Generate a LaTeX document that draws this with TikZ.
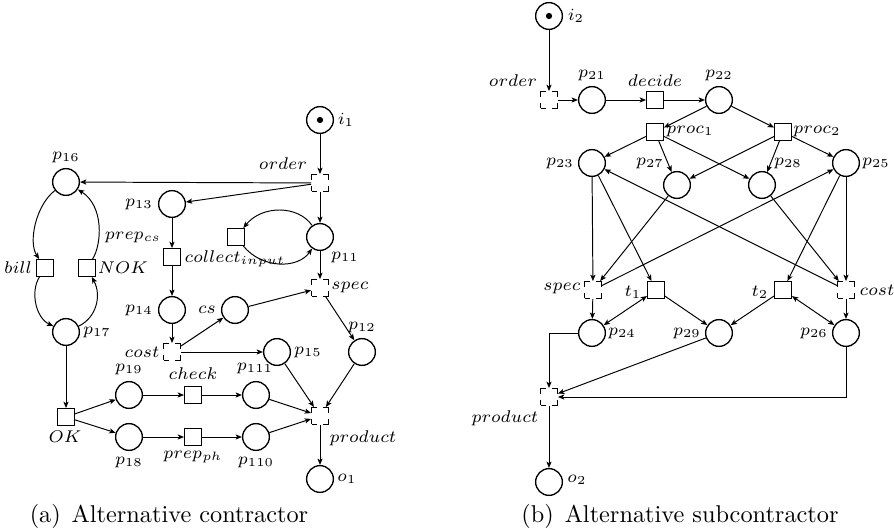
\documentclass[tikz,border=0pt]{standalone}
\usetikzlibrary{arrows.meta}
\begin{document}
\begin{tikzpicture}[x=0.4115pt,y=-0.4115pt,
  place/.style={circle,draw,line width=0.55pt,minimum size=11pt,inner sep=0pt},
  trans/.style={rectangle,draw,line width=0.55pt,minimum size=6.8pt,inner sep=0pt},
  silent/.style={trans,dash pattern=on 4pt off 2.8pt,dash phase=2pt},
  flow/.style={-{Stealth[length=2.6pt,width=2.1pt,inset=0.6pt]},line width=0.4pt},
  bflow/.style={{Stealth[length=2.6pt,width=2.1pt,inset=0.6pt]}-{Stealth[length=2.6pt,width=2.1pt,inset=0.6pt]},line width=0.4pt},
  lbl/.style={inner sep=0pt,font=\scriptsize},
  captxt/.style={inner sep=0pt,font=\normalsize}]
\useasboundingbox (0,0) rectangle (894,532);

% ---------------- left net ----------------
\node[place] (i1) at (320,120) {};
\fill (i1.center) circle[radius=1.3pt];
\node[silent] (order1) at (320,183) {};
\node[place] (p16) at (66,182) {};
\node[place] (p13) at (172,204) {};
\node[trans] (collect) at (236,237) {};
\node[place] (p11) at (320,237) {};
\node[trans] (tx) at (172,257) {};
\node[trans] (bill) at (45,268) {};
\node[trans] (nok) at (87,268) {};
\node[silent] (spec1) at (320,288) {};
\node[place] (p14) at (172,310) {};
\node[place] (cs) at (235,310) {};
\node[place] (p17) at (66,332) {};
\node[silent] (cost1) at (172,352) {};
\node[place] (p15) at (277,352) {};
\node[place] (p12) at (362,352) {};
\node[place] (p19) at (129,395) {};
\node[trans] (check) at (193,395) {};
\node[place] (p111) at (256,395) {};
\node[trans] (ok) at (66,417) {};
\node[silent] (product1) at (320,416) {};
\node[place] (p18) at (129,437) {};
\node[trans] (prepph) at (193,437) {};
\node[place] (p110) at (256,437) {};
\node[place] (o1) at (320,479) {};

\node[lbl] (l-i1) at (346,120) {$i_1$};
\node[lbl] (l-order1) at (283,164) {$order$};
\node[lbl] (l-p16) at (66,157) {$p_{16}$};
\node[lbl] (l-p13) at (139,204) {$p_{13}$};
\node[lbl] (l-prepcs) at (133,237) {$prep_{cs}$};
\node[lbl] (l-collect) at (235,259) {$collect_{input}$};
\node[lbl] (l-p11) at (345,257) {$p_{11}$};
\node[lbl] (l-bill) at (18,268) {$bill$};
\node[lbl] (l-nok) at (123,268) {$NOK$};
\node[lbl] (l-spec1) at (350,287) {$spec$};
\node[lbl] (l-p14) at (139,310) {$p_{14}$};
\node[lbl] (l-cs) at (207,310) {$cs$};
\node[lbl] (l-p17) at (97,332) {$p_{17}$};
\node[lbl] (l-p12) at (362,327) {$p_{12}$};
\node[lbl] (l-cost1) at (142,352) {$cost$};
\node[lbl] (l-p15) at (308,352) {$p_{15}$};
\node[lbl] (l-p111) at (255,368) {$p_{111}$};
\node[lbl] (l-p19) at (129,369) {$p_{19}$};
\node[lbl] (l-check) at (193,374) {$check$};
\node[lbl] (l-ok) at (65,437) {$OK$};
\node[lbl] (l-product1) at (363,438) {$product$};
\node[lbl] (l-p18) at (129,462) {$p_{18}$};
\node[lbl] (l-prepph) at (193,457) {$prep_{ph}$};
\node[lbl] (l-p110) at (256,462) {$p_{110}$};
\node[lbl] (l-o1) at (347,479) {$o_1$};

\draw[flow] (i1) -- (order1);
\draw[flow] (order1) -- (p16);
\draw[flow] (order1) -- (p13);
\draw[flow] (order1) -- (p11);
\draw[flow] (p11) .. controls (298,205) and (262,205) .. (collect);
\draw[flow] (collect) .. controls (262,269) and (298,269) .. (p11);
\draw[flow] (p11) -- (spec1);
\draw[flow] (p13) -- (tx);
\draw[flow] (tx) -- (p14);
\draw[flow] (p14) -- (cost1);
\draw[flow] (cost1) -- (cs);
\draw[flow] (cs) -- (spec1);
\draw[flow] (cost1) -- (p15);
\draw[flow] (spec1) -- (p12);
\draw[flow] (p16) .. controls (36,205) and (28,242) .. (bill);
\draw[flow] (nok) .. controls (102,244) and (104,206) .. (p16);
\draw[flow] (bill) .. controls (30,292) and (36,318) .. (p17);
\draw[flow] (p17) .. controls (96,318) and (102,296) .. (nok);
\draw[flow] (p17) -- (ok);
\draw[flow] (ok) -- (p19);
\draw[flow] (ok) -- (p18);
\draw[flow] (p19) -- (check);
\draw[flow] (check) -- (p111);
\draw[flow] (p18) -- (prepph);
\draw[flow] (prepph) -- (p110);
\draw[flow] (p111) -- (product1);
\draw[flow] (p110) -- (product1);
\draw[flow] (p15) -- (product1);
\draw[flow] (p12) -- (product1);
\draw[flow] (product1) -- (o1);

% ---------------- right net ----------------
\node[place] (i2) at (549,16) {};
\fill (i2.center) circle[radius=1.3pt];
\node[silent] (order2) at (549,100) {};
\node[place] (p21) at (592,100) {};
\node[trans] (decide) at (655,100) {};
\node[place] (p22) at (719,100) {};
\node[trans] (proc1) at (655,132) {};
\node[trans] (proc2) at (783,132) {};
\node[place] (p23) at (592,163) {};
\node[place] (p27) at (677,185) {};
\node[place] (p28) at (762,185) {};
\node[place] (p25) at (846,163) {};
\node[silent] (spec2) at (593,290) {};
\node[trans] (t1) at (656,290) {};
\node[trans] (t2) at (783,290) {};
\node[silent] (cost2) at (846,290) {};
\node[place] (p24) at (592,333) {};
\node[place] (p29) at (719,333) {};
\node[place] (p26) at (846,333) {};
\node[silent] (product2) at (549,397) {};
\node[place] (o2) at (549,482) {};

\node[lbl] (l-i2) at (576,16) {$i_2$};
\node[lbl] (l-order2) at (513,81) {$order$};
\node[lbl] (l-p21) at (592,75) {$p_{21}$};
\node[lbl] (l-decide) at (655,81) {$decide$};
\node[lbl] (l-p22) at (719,75) {$p_{22}$};
\node[lbl] (l-proc1) at (690,131) {$proc_1$};
\node[lbl] (l-proc2) at (817,131) {$proc_2$};
\node[lbl] (l-p23) at (560,163) {$p_{23}$};
\node[lbl] (l-p27) at (650,163) {$p_{27}$};
\node[lbl] (l-p28) at (788,163) {$p_{28}$};
\node[lbl] (l-p25) at (876,163) {$p_{25}$};
\node[lbl] (l-spec2) at (562,288) {$spec$};
\node[lbl] (l-t1) at (633,292) {$t_1$};
\node[lbl] (l-t2) at (760,292) {$t_2$};
\node[lbl] (l-cost2) at (877,290) {$cost$};
\node[lbl] (l-p24) at (622,333) {$p_{24}$};
\node[lbl] (l-p29) at (687,333) {$p_{29}$};
\node[lbl] (l-p26) at (814,333) {$p_{26}$};
\node[lbl] (l-product2) at (505,418) {$product$};
\node[lbl] (l-o2) at (577,480) {$o_2$};

\draw[flow] (i2) -- (order2);
\draw[flow] (order2) -- (p21);
\draw[flow] (p21) -- (decide);
\draw[flow] (decide) -- (p22);
\draw[flow] (p22) -- (proc1);
\draw[flow] (p22) -- (proc2);
\draw[flow] (proc1) -- (p23);
\draw[flow] (proc1) -- (p27);
\draw[flow] (proc1) -- (p28);
\draw[flow] (proc2) -- (p27);
\draw[flow] (proc2) -- (p28);
\draw[flow] (proc2) -- (p25);
\draw[flow] (p23) -- (spec2);
\draw[flow] (p23) -- (t1);
\draw[flow] (cost2) -- (p23);
\draw[flow] (spec2) -- (p25);
\draw[flow] (p27) -- (spec2);
\draw[flow] (p28) -- (cost2);
\draw[flow] (p25) -- (t2);
\draw[flow] (p25) -- (cost2);
\draw[flow] (spec2) -- (p24);
\draw[bflow] (t1) -- (p24);
\draw[flow] (t1) -- (p29);
\draw[flow] (t2) -- (p29);
\draw[bflow] (t2) -- (p26);
\draw[flow] (cost2) -- (p26);
\draw[flow] (p24.west) -| (product2.north);
\draw[flow] (p29) -- (product2);
\draw[flow] (p26.south) |- (product2.east);
\draw[flow] (product2) -- (o2);

% ---------------- captions ----------------
\node[captxt] (capa) at (169,516) {(a)\hspace{0.45em}Alternative contractor};
\node[captxt] (capb) at (680,516) {(b)\hspace{0.45em}Alternative subcontractor};
\end{tikzpicture}
\end{document}
